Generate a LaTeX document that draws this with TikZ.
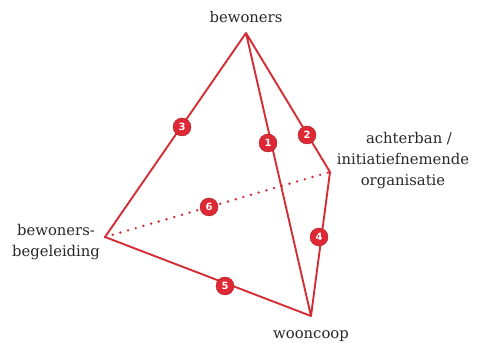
\documentclass[tikz,border=0pt]{standalone}
\usepackage{fontspec}
\setmainfont{DejaVu Serif}
\setsansfont{DejaVu Sans}
\definecolor{edgered}{RGB}{212,45,52}
\definecolor{badgered}{RGB}{222,40,52}
\definecolor{labelgray}{RGB}{40,40,40}
\begin{document}
\begin{tikzpicture}[x=1pt,y=-1pt,
  edge/.style={draw=edgered,line width=1.9pt,line join=round},
  hidden/.style={draw=edgered,line width=2.7pt,dash pattern=on 0pt off 8pt,line cap=round},
  badge/.style={circle,fill=badgered,draw=edgered!80!black,line width=0.4pt,inner sep=0pt,minimum size=18pt,text=white,font=\sffamily\bfseries\fontsize{10}{10}\selectfont},
  lbl/.style={text=labelgray,font=\fontsize{14.8}{21}\selectfont,align=center,inner sep=0pt}]
\useasboundingbox (0,0) rectangle (479,344);
\coordinate (top) at (246,33);
\coordinate (left) at (105,237);
\coordinate (bot) at (311,316);
\coordinate (right) at (330,172);
\draw[hidden] (left) -- (right);
\draw[edge] (top) -- (left) -- (bot) -- (right) -- (top) -- (bot);
\node[badge] (b1) at (268,143) {1};
\node[badge] (b2) at (307,135) {2};
\node[badge] (b3) at (182,127) {3};
\node[badge] (b4) at (319,237) {4};
\node[badge] (b5) at (225,286) {5};
\node[badge] (b6) at (209,207) {6};
\node[lbl] (ltop) at (246,17) {bewoners};
\node[lbl] (lbot) at (311,336) {wooncoop};
\node[lbl] (lright) at (403,161) {\hspace*{12pt}achterban /\\initiatiefnemende\\organisatie};
\node[lbl] (lleft) at (56,242) {bewoners-\\begeleiding};
\end{tikzpicture}
\end{document}
